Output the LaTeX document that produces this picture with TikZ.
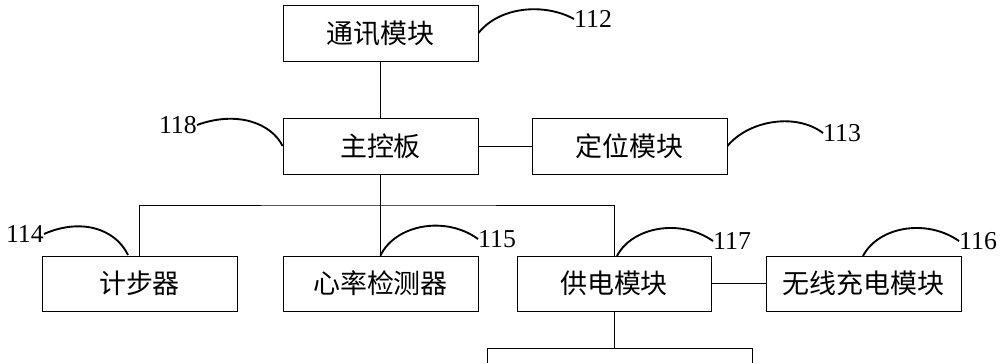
\documentclass[tikz,border=0pt]{standalone}
\usepackage{fontspec}
\setmainfont{Liberation Serif}
\newfontfamily\cjk{Noto Sans CJK SC}
\begin{document}
\begin{tikzpicture}[x=0.03cm,y=-0.03cm,
  box/.style={draw,line width=0.8pt,minimum width=195*0.03cm,minimum height=56*0.03cm,inner sep=0pt,font=\cjk\fontsize{23}{26}\selectfont},
  num/.style={inner sep=0pt,font=\fontsize{22}{24}\selectfont},
  wire/.style={line width=0.8pt},
  lead/.style={line width=1.6pt}]
\useasboundingbox (0,0) rectangle (1000,363);
\begin{scope}
\clip (0,0) rectangle (1000,363);
\node[box] (tx) at (380.5,33) {通讯模块};
\node[box] (zk) at (380.5,146) {主控板};
\node[box] (dw) at (629.5,146) {定位模块};
\node[box,minimum height=55*0.03cm] (jb) at (139.5,283.5) {计步器};
\node[box,minimum height=55*0.03cm] (xl) at (380.5,283.5) {心率检测器};
\node[box,minimum height=55*0.03cm,minimum width=194*0.03cm] (gd) at (614,283.5) {供电模块};
\node[box,minimum height=55*0.03cm] (wx) at (863.5,283.5) {无线充电模块};
\node[draw,line width=0.8pt,minimum width=265*0.03cm,minimum height=64*0.03cm,inner sep=0pt] (bot) at (619.5,380) {};

\node[num,anchor=west] (n112) at (574,19) {112};
\node[num,anchor=west] (n113) at (823,133) {113};
\node[num,anchor=east] (n118) at (197,125) {118};
\node[num,anchor=east] (n114) at (44,234) {114};
\node[num,anchor=west] (n115) at (478,239) {115};
\node[num,anchor=west] (n117) at (713,241) {117};
\node[num,anchor=west] (n116) at (959,241) {116};

\coordinate (bus) at (380.5,205);
\draw[wire] (tx.south) -- (zk.north);
\draw[wire] (zk.east) -- (dw.west);
\draw[wire] (zk.south) -- (bus);
\draw[wire] (jb.north) |- (bus) -| (gd.north);
\draw[wire] (bus) -- (xl.north);
\draw[wire] (gd.east) -- (wx.west);
\draw[wire] (gd.south) -- (gd.south |- bot.north);

\draw[lead] (tx.east) .. controls (500,6) and (545,3) .. (n112.west);
\draw[lead] (dw.east) .. controls (748,121) and (795,112) .. (n113.west);
\draw[lead] (n118.east) .. controls (238,110) and (272,124) .. (zk.west);
\draw[lead] (n114.east) .. controls (80,218) and (115,228) .. (128,255);
\draw[lead] (xl.north) .. controls (395,225) and (445,215) .. (n115.west);
\draw[lead] (617,256) .. controls (632,227) and (680,218) .. (n117.west);
\draw[lead] (863,256) .. controls (878,227) and (926,218) .. (n116.west);
\end{scope}
\end{tikzpicture}
\end{document}
